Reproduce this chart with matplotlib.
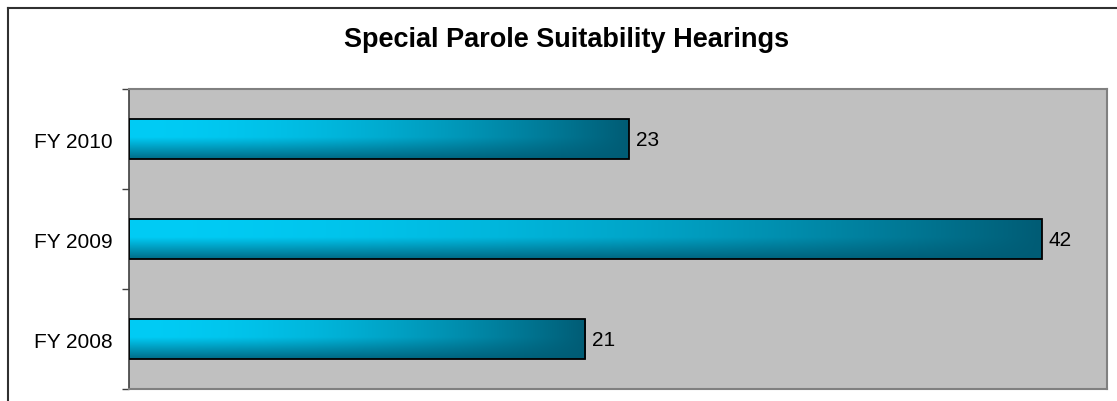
import numpy as np
import matplotlib.pyplot as plt
from matplotlib.patches import Rectangle
from matplotlib.lines import Line2D

categories = ["FY 2008", "FY 2009", "FY 2010"]
values = [21, 42, 23]
title = "Special Parole Suitability Hearings"

plt.rcParams['font.family'] = ['Liberation Sans', 'DejaVu Sans']

fig = plt.figure(figsize=(11.17, 4.02), dpi=100)
W, H = 1117, 402
ax = fig.add_axes([129 / W, 1 - 390 / H, (1107 - 129) / W, 300 / H])
ax.set_facecolor('#C0C0C0')

# gradient image for bars: light cyan top-left -> dark teal right/bottom
light = np.array([0, 204, 245]) / 255
dark = np.array([0, 92, 117]) / 255
nx, ny = 200, 60
xf = np.linspace(0, 1, nx)[None, :]
yf = np.linspace(0, 1, ny)[:, None]          # 0 = top, 1 = bottom
vf = np.clip((yf - 0.45) / 0.55, 0, 1) * 0.85
t = 1 - (1 - xf ** 1.8) * (1 - vf)
img = light[None, None, :] * (1 - t[..., None]) + dark[None, None, :] * t[..., None]

bar_h = 0.4
for i, v in enumerate(values):
    y0 = i - bar_h / 2
    im = ax.imshow(img, extent=[0, v, y0, y0 + bar_h], aspect='auto', zorder=2,
                   interpolation='bilinear')
    rect = Rectangle((0, y0), v, bar_h, facecolor='none', edgecolor='black',
                     linewidth=1.3, zorder=3)
    ax.add_patch(rect)
    im.set_clip_path(rect)
    ax.annotate(str(v), (v, i), xytext=(5, 0), textcoords='offset points',
                va='center', ha='left', fontsize=15, color='black')

ax.set_xlim(0, 45)
ax.set_ylim(-0.5, 2.5)

ax.set_xticks([])
ax.set_yticks([-0.5, 0.5, 1.5, 2.5])
ax.set_yticklabels([])
ax.tick_params(axis='y', which='major', length=5, width=1, color='#404040')
ax.set_yticks(range(len(categories)), minor=True)
ax.set_yticklabels(categories, minor=True, fontsize=15)
ax.tick_params(axis='y', which='minor', length=0, pad=12)

ax.spines['left'].set_color('#404040')
ax.spines['left'].set_linewidth(1.2)
for s in ['top', 'right', 'bottom']:
    ax.spines[s].set_color('#808080')
    ax.spines[s].set_linewidth(1.5)

fig.text(567 / W, 1 - 40 / H, title, ha='center', va='center',
         fontsize=19.5, fontweight='bold')

# outer chart border (runs off right and bottom edges)
fig.add_artist(Line2D([7.5 / W, 7.5 / W], [0, 1 - 9 / H], color='#303030', lw=1.5,
                      transform=fig.transFigure))
fig.add_artist(Line2D([7.5 / W, 1], [1 - 9 / H, 1 - 9 / H], color='#303030', lw=1.5,
                      transform=fig.transFigure))

fig.savefig('out.png', dpi=100)
